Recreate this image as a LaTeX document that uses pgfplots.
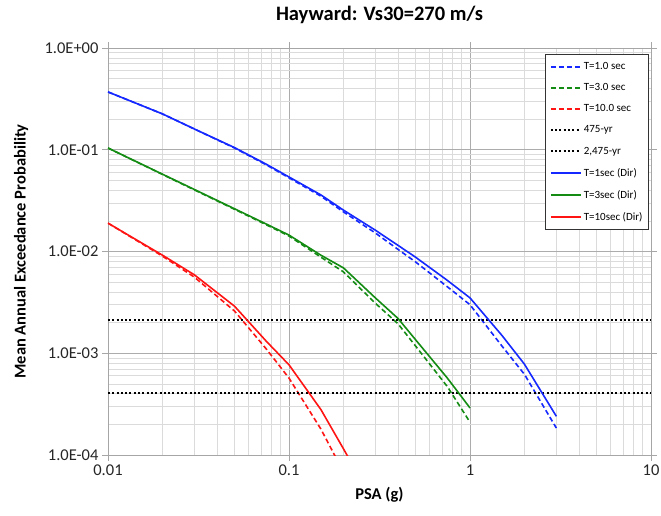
\documentclass[border=0pt]{standalone}
\usepackage{pgfplots}
\pgfplotsset{compat=1.18}
\usepackage{fontspec}
\setmainfont{Carlito}
\definecolor{cblue}{RGB}{20,40,255}
\definecolor{cgreen}{RGB}{20,140,20}
\definecolor{cred}{RGB}{255,20,20}
\begin{document}
\begin{tikzpicture}
\begin{axis}[
  at={(0pt,0pt)}, anchor=south west,
  scale only axis, width=543pt, height=407pt,
  xmode=log, ymode=log,
  xmin=0.01, xmax=10, ymin=1e-4, ymax=1,
  xtick={0.01,0.1,1,10}, xticklabels={0.01,0.1,1,10},
  ytick={1e-4,1e-3,1e-2,1e-1,1},
  yticklabels={1.0E-04,1.0E-03,1.0E-02,1.0E-01,1.0E+00},
  /pgf/number format/assume math mode=true,
  ticklabel style={font=\fontsize{16.5}{19}\selectfont, text=black!85},
  tick align=outside, major tick length=6pt, minor tick length=0pt,
  tick style={gray!70, line width=0.8pt},
  grid=both,
  major grid style={gray!65, line width=0.9pt},
  minor grid style={gray!28, line width=0.7pt},
  axis line style={gray!70, line width=0.9pt},
  title={Hayward: Vs30=270 m/s},
  title style={font=\bfseries\fontsize{20.5}{24}\selectfont, at={(axis description cs:0.5,1.066)}, anchor=center},
  xlabel={PSA (g)},
  xlabel style={font=\bfseries\fontsize{16.5}{20}\selectfont, at={(axis description cs:0.5,-0.098)}, anchor=center},
  ylabel={Mean Annual Exceedance Probability},
  ylabel style={font=\bfseries\fontsize{16.5}{20}\selectfont, at={(axis description cs:-0.160,0.5)}, anchor=center, rotate=0},
  legend style={at={(rel axis cs:0.996,0.985)}, anchor=north east, draw=black!80, line width=0.7pt, fill=white,
    font=\fontsize{11}{13}\selectfont, row sep=8.5pt, inner xsep=4pt, inner ysep=6pt},
  legend cell align=left,
  legend image code/.code={\draw[#1] (0pt,0pt) -- (30pt,0pt);},
  clip=true,
]
% T=1.0 sec (dashed)
\addplot[cblue, line width=1.6pt, dash pattern=on 5pt off 3pt] coordinates {
(0.01,0.37)(0.02,0.225)(0.03,0.16)(0.05,0.104)(0.075,0.071)(0.1,0.053)(0.15,0.035)(0.2,0.0245)(0.3,0.0152)(0.4,0.0105)(0.5,0.0079)(0.75,0.0045)(1.0,0.0030)(1.5,0.00118)(2.0,0.00062)(3.0,0.000184)};
\addlegendentry{T=1.0 sec}
% T=3.0 sec (dashed)
\addplot[cgreen, line width=1.6pt, dash pattern=on 5pt off 3pt] coordinates {
(0.01,0.104)(0.02,0.0572)(0.03,0.0403)(0.05,0.026)(0.075,0.0183)(0.1,0.0142)(0.15,0.0088)(0.2,0.0063)(0.3,0.0031)(0.4,0.00195)(0.5,0.00118)(0.75,0.00047)(1.0,0.00021)};
\addlegendentry{T=3.0 sec}
% T=10.0 sec (dashed)
\addplot[cred, line width=1.6pt, dash pattern=on 5pt off 3pt] coordinates {
(0.01,0.019)(0.02,0.0090)(0.03,0.0056)(0.05,0.0026)(0.075,0.0011)(0.1,0.00057)(0.15,0.00018)(0.2,0.000068)};
\addlegendentry{T=10.0 sec}
% 475-yr
\addplot[black, line width=2pt, dash pattern=on 2pt off 2.3pt] coordinates {(0.01,0.002105)(10,0.002105)};
\addlegendentry{475-yr}
% 2,475-yr
\addplot[black, line width=2pt, dash pattern=on 2pt off 2.3pt] coordinates {(0.01,0.000404)(10,0.000404)};
\addlegendentry{2,475-yr}
% T=1sec (Dir)
\addplot[cblue, line width=1.6pt] coordinates {
(0.01,0.37)(0.02,0.225)(0.03,0.16)(0.05,0.105)(0.075,0.072)(0.1,0.054)(0.15,0.036)(0.2,0.0255)(0.3,0.0162)(0.4,0.0115)(0.5,0.0088)(0.75,0.0052)(1.0,0.0035)(1.5,0.0015)(2.0,0.00078)(3.0,0.00024)};
\addlegendentry{T=1sec (Dir)}
% T=3sec (Dir)
\addplot[cgreen, line width=1.6pt] coordinates {
(0.01,0.104)(0.02,0.0575)(0.03,0.0407)(0.05,0.0263)(0.075,0.0186)(0.1,0.0145)(0.15,0.0092)(0.2,0.0069)(0.3,0.0035)(0.4,0.0022)(0.5,0.00136)(0.75,0.00057)(1.0,0.00029)};
\addlegendentry{T=3sec (Dir)}
% T=10sec (Dir)
\addplot[cred, line width=1.6pt] coordinates {
(0.01,0.019)(0.02,0.0092)(0.03,0.0059)(0.05,0.0029)(0.075,0.00131)(0.1,0.00077)(0.15,0.00028)(0.2,0.000115)(0.3,0.000032)};
\addlegendentry{T=10sec (Dir)}
\end{axis}
\pgfresetboundingbox
\path[use as bounding box] (-108pt,-61pt) rectangle (553pt,455pt);
\end{tikzpicture}
\end{document}
